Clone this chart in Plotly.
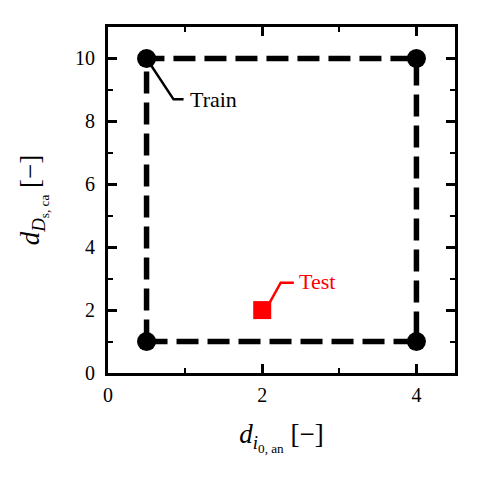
import plotly.graph_objects as go

# training corners (dashed square) and test point
train_x = [0.5, 0.5, 4, 4, 0.5]
train_y = [1, 10, 10, 1, 1]
test_x = [2]
test_y = [2]

x_ticks = [0, 2, 4]
y_ticks = [0, 2, 4, 6, 8, 10]

FONT = "Times New Roman, Liberation Serif, DejaVu Serif, serif"

fig = go.Figure()

fig.add_trace(go.Scatter(
    x=train_x, y=train_y, mode="lines",
    line=dict(color="black", width=5.5, dash="22px,9px"),
    showlegend=False, hoverinfo="skip"
))
fig.add_trace(go.Scatter(
    x=train_x[:4], y=train_y[:4], mode="markers",
    marker=dict(color="black", size=19, symbol="circle"),
    showlegend=False, name="Train"
))
fig.add_trace(go.Scatter(
    x=test_x, y=test_y, mode="markers",
    marker=dict(color="red", size=18, symbol="square"),
    showlegend=False, name="Test"
))

# leader lines for labels
fig.add_shape(type="path", xref="x", yref="y",
              path="M 0.5 10 L 0.85 8.7 L 0.98 8.7",
              line=dict(color="black", width=2.5))
fig.add_shape(type="path", xref="x", yref="y",
              path="M 2.1 2.25 L 2.24 2.87 L 2.41 2.87",
              line=dict(color="red", width=2.5))

fig.add_annotation(x=1.04, y=8.7, text="Train", showarrow=False,
                   xanchor="left", yanchor="middle",
                   font=dict(family=FONT, size=22, color="black"))
fig.add_annotation(x=2.45, y=2.9, text="Test", showarrow=False,
                   xanchor="left", yanchor="middle",
                   font=dict(family=FONT, size=22, color="red"))

axis_common = dict(
    showline=True, linecolor="black", linewidth=3, mirror="allticks",
    ticks="inside", ticklen=9, tickwidth=2.5, tickcolor="black",
    showgrid=False, zeroline=False, automargin=False,
    tickfont=dict(family=FONT, size=20, color="black"),
    minor=dict(ticks="inside", ticklen=5, tickwidth=2, tickcolor="black", dtick=1),
)

fig.update_xaxes(range=[0, 4.5], tickvals=x_ticks, ticklabelstandoff=2, **axis_common,
                 title=dict(text="<i>d</i><sub><i>i</i><sub>0, an</sub></sub> [−]",
                            font=dict(family=FONT, size=27, color="black"), standoff=20))
fig.update_yaxes(range=[0, 11], tickvals=y_ticks, ticklabelstandoff=6, **axis_common,
                 title=dict(text="<i>d</i><sub><i>D</i><sub>s, ca</sub></sub> [−]",
                            font=dict(family=FONT, size=27, color="black"), standoff=28))

# the page body adds an 8px offset, so margins are shifted to compensate
fig.update_layout(
    width=481, height=480,
    margin=dict(l=100, r=34, t=19, b=115),
    plot_bgcolor="white", paper_bgcolor="white",
)

fig.write_html("out.html")
